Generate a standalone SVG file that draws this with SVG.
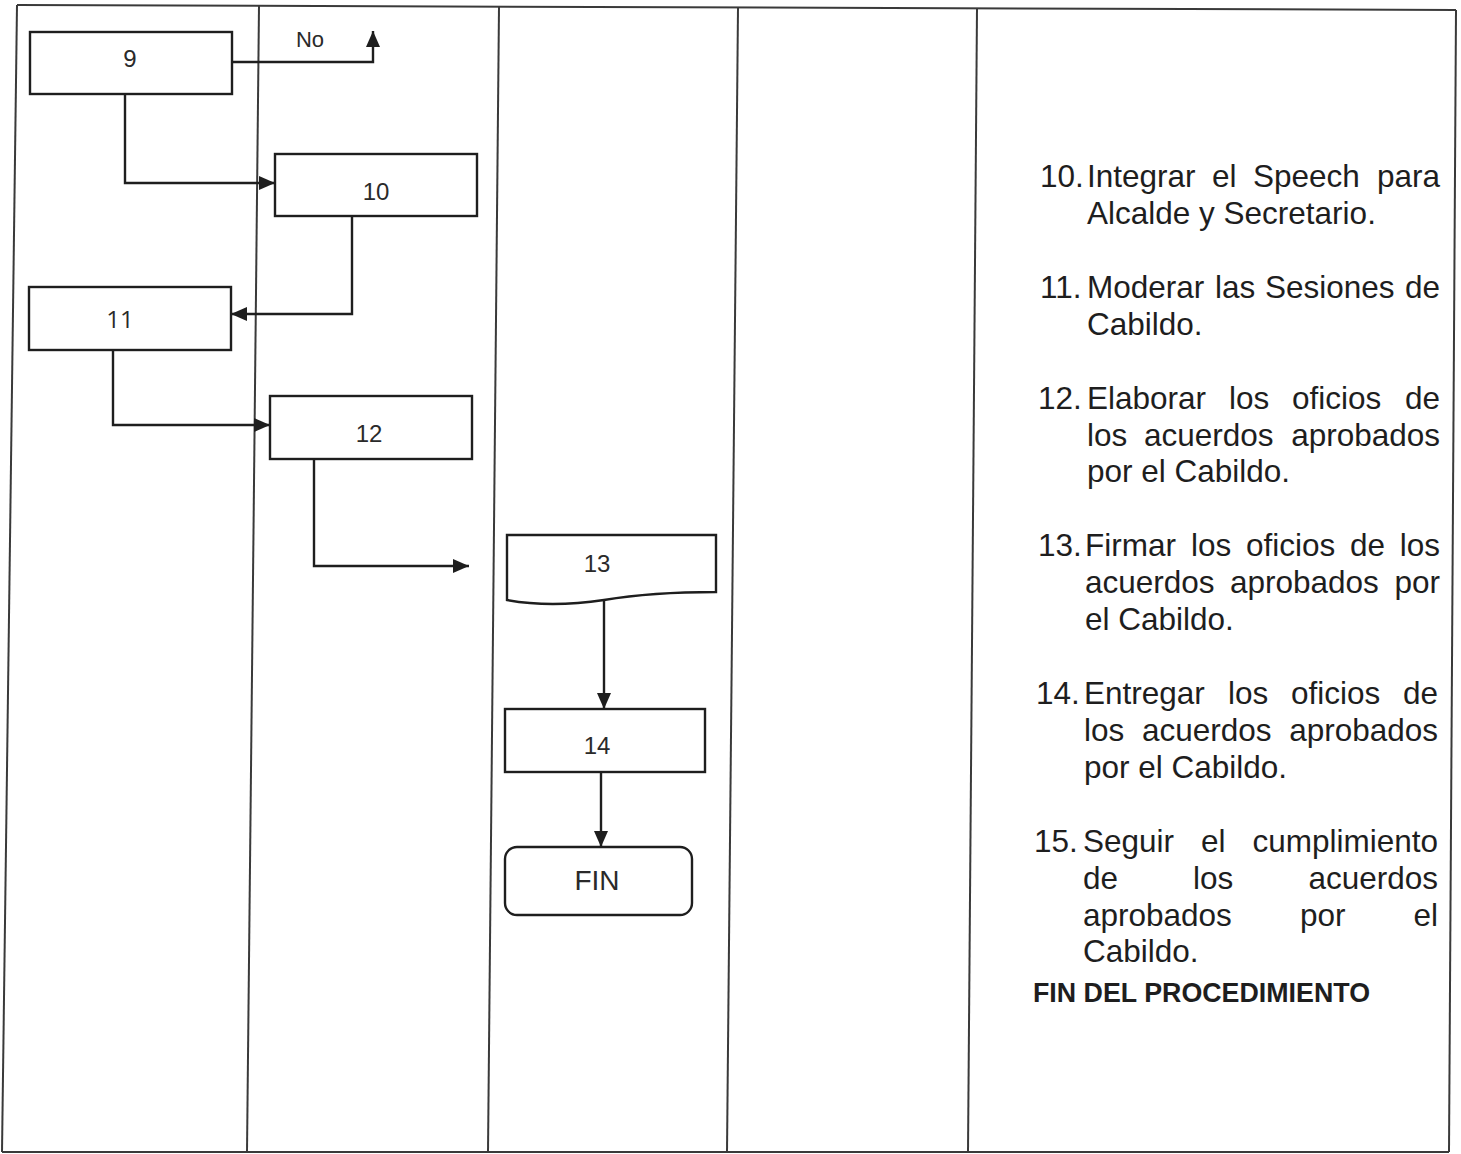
<svg xmlns="http://www.w3.org/2000/svg" width="1461" height="1154" viewBox="0 0 1461 1154">
  <style>
    .grid { stroke: #3a3a3a; stroke-width: 2; fill: none; }
    .box { fill: #ffffff; stroke: #1e1e1e; stroke-width: 2.4; }
    .edge { fill: none; stroke: #1e1e1e; stroke-width: 2.4; }
    .lbl { font-family: "Liberation Sans", Arial, sans-serif; font-size: 24px; fill: #2a2a2a; text-anchor: middle; }
    .desc { font-family: "Liberation Sans", Arial, sans-serif; font-size: 31.5px; fill: #1e1e1e; }
  </style>
  <defs>
    <marker id="arrow" viewBox="0 0 16 14" refX="16" refY="7" markerWidth="16" markerHeight="14" markerUnits="userSpaceOnUse" orient="auto">
      <path d="M0,0 L16,7 L0,14 Z" fill="#1e1e1e"/>
    </marker>
  </defs>
  <rect width="1461" height="1154" fill="#ffffff"/>

  <!-- table grid -->
  <g id="grid">
    <line class="grid" x1="17" y1="5" x2="1456" y2="10"/>
    <line class="grid" x1="2" y1="1152" x2="1449" y2="1152"/>
    <line class="grid" x1="17" y1="5" x2="2" y2="1152"/>
    <line class="grid" x1="259" y1="6" x2="247" y2="1152"/>
    <line class="grid" x1="499" y1="7" x2="488" y2="1152"/>
    <line class="grid" x1="738" y1="8" x2="727" y2="1152"/>
    <line class="grid" x1="977" y1="9" x2="968" y2="1152"/>
    <line class="grid" x1="1456" y1="10" x2="1449" y2="1152"/>
  </g>

  <!-- connectors -->
  <g id="connectors">
    <polyline class="edge" points="232,62 373,62 373,31" marker-end="url(#arrow)"/>
    <text class="lbl" x="310" y="47" style="font-size:22px">No</text>
    <polyline class="edge" points="125,94 125,183 275,183" marker-end="url(#arrow)"/>
    <polyline class="edge" points="352,216 352,314 231,314" marker-end="url(#arrow)"/>
    <polyline class="edge" points="123,343 113,343 113,425 270,425" marker-end="url(#arrow)"/>
    <polyline class="edge" points="314,459 314,566 469,566" marker-end="url(#arrow)"/>
    <line class="edge" x1="604" y1="600" x2="604" y2="709" marker-end="url(#arrow)"/>
    <line class="edge" x1="601" y1="772" x2="601" y2="847" marker-end="url(#arrow)"/>
  </g>

  <!-- nodes -->
  <g id="node-9">
    <rect class="box" x="30" y="32" width="202" height="62"/>
    <text class="lbl" x="130" y="67">9</text>
  </g>
  <g id="node-10">
    <rect class="box" x="275" y="154" width="202" height="62"/>
    <text class="lbl" x="376" y="200">10</text>
  </g>
  <g id="node-11">
    <rect class="box" x="29" y="287" width="202" height="63"/>
    <text class="lbl" x="120" y="328" style="font-family:'Open Sans','Liberation Sans',sans-serif">11</text>
  </g>
  <g id="node-12">
    <rect class="box" x="270" y="396" width="202" height="63"/>
    <text class="lbl" x="369" y="442">12</text>
  </g>
  <g id="node-13">
    <path class="box" d="M507,535 L716,535 L716,592 C680,592 640,594 604,600 C570,605 540,606 507,600 Z"/>
    <text class="lbl" x="597" y="572">13</text>
  </g>
  <g id="node-14">
    <rect class="box" x="505" y="709" width="200" height="63"/>
    <text class="lbl" x="597" y="754">14</text>
  </g>
  <g id="node-fin">
    <rect class="box" x="505" y="847" width="187" height="68" rx="12" ry="12"/>
    <text class="lbl" x="597" y="890" style="font-size:28px">FIN</text>
  </g>

  <!-- step descriptions (justified word by word) -->
  <g id="descriptions" class="desc">
    <text y="187"><tspan x="1040">10.</tspan><tspan x="1087">Integrar</tspan><tspan x="1212">el</tspan><tspan x="1253">Speech</tspan><tspan x="1440" text-anchor="end">para</tspan></text>
    <text x="1087" y="224">Alcalde y Secretario.</text>

    <text y="298"><tspan x="1040">11.</tspan><tspan x="1087">Moderar</tspan><tspan x="1215">las</tspan><tspan x="1265">Sesiones</tspan><tspan x="1440" text-anchor="end">de</tspan></text>
    <text x="1087" y="335">Cabildo.</text>

    <text y="409"><tspan x="1038">12.</tspan><tspan x="1087">Elaborar</tspan><tspan x="1229">los</tspan><tspan x="1292">oficios</tspan><tspan x="1440" text-anchor="end">de</tspan></text>
    <text y="446"><tspan x="1087">los</tspan><tspan x="1144">acuerdos</tspan><tspan x="1440" text-anchor="end">aprobados</tspan></text>
    <text x="1087" y="482">por el Cabildo.</text>

    <text y="556"><tspan x="1038">13.</tspan><tspan x="1085">Firmar</tspan><tspan x="1191">los</tspan><tspan x="1246">oficios</tspan><tspan x="1350">de</tspan><tspan x="1440" text-anchor="end">los</tspan></text>
    <text y="593"><tspan x="1085">acuerdos</tspan><tspan x="1230">aprobados</tspan><tspan x="1440" text-anchor="end">por</tspan></text>
    <text x="1085" y="630">el Cabildo.</text>

    <text y="704"><tspan x="1036">14.</tspan><tspan x="1084">Entregar</tspan><tspan x="1228">los</tspan><tspan x="1291">oficios</tspan><tspan x="1438" text-anchor="end">de</tspan></text>
    <text y="741"><tspan x="1084">los</tspan><tspan x="1142">acuerdos</tspan><tspan x="1438" text-anchor="end">aprobados</tspan></text>
    <text x="1084" y="778">por el Cabildo.</text>

    <text y="852"><tspan x="1034">15.</tspan><tspan x="1083">Seguir</tspan><tspan x="1201">el</tspan><tspan x="1438" text-anchor="end">cumplimiento</tspan></text>
    <text y="889"><tspan x="1083">de</tspan><tspan x="1193">los</tspan><tspan x="1438" text-anchor="end">acuerdos</tspan></text>
    <text y="926"><tspan x="1083">aprobados</tspan><tspan x="1300">por</tspan><tspan x="1438" text-anchor="end">el</tspan></text>
    <text x="1083" y="962">Cabildo.</text>

    <text x="1033" y="1002" style="font-weight:bold;font-size:27px" textLength="337" lengthAdjust="spacingAndGlyphs">FIN DEL PROCEDIMIENTO</text>
  </g>
</svg>
